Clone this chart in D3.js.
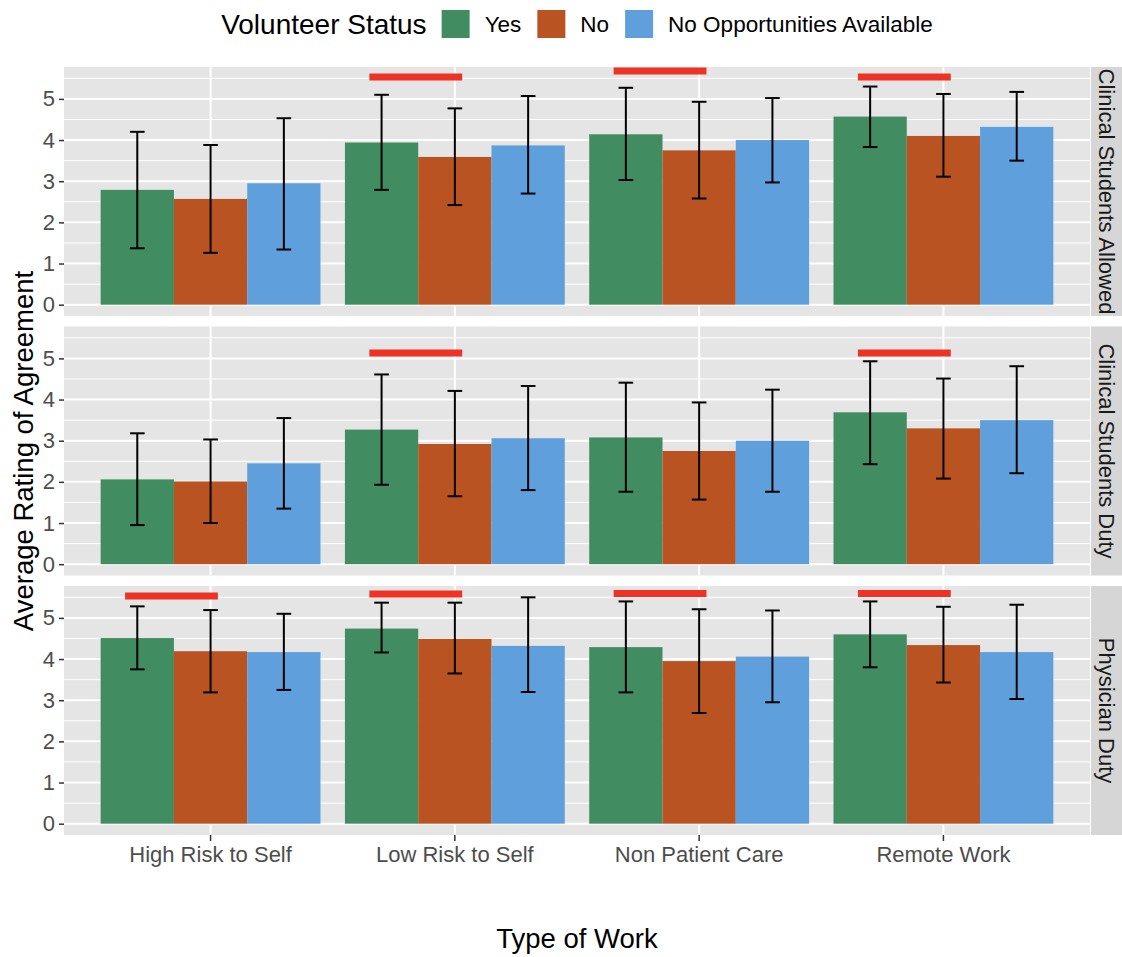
<!DOCTYPE html>
<html>
<head>
<meta charset="utf-8">
<script src="https://cdn.jsdelivr.net/npm/d3@7"></script>
<style>
  html, body { margin: 0; padding: 0; background: #ffffff; }
  svg { display: block; font-family: "Liberation Sans", Arial, Helvetica, sans-serif; }
</style>
</head>
<body>
<svg id="chart" width="1122" height="957"></svg>
<script>
// ---------------- DATA ----------------
const categories = ["High Risk to Self", "Low Risk to Self", "Non Patient Care", "Remote Work"];
const facets = ["Clinical Students Allowed", "Clinical Students Duty", "Physician Duty"];
const statuses = ["Yes", "No", "No Opportunities Available"];
const statusColors = ["#428C62", "#B95422", "#5FA0DC"];
const yTicks = [0, 1, 2, 3, 4, 5];
const yMinorTicks = [0.5, 1.5, 2.5, 3.5, 4.5, 5.5];

// rows = status (Yes, No, No Opportunities), columns = category
const meanAllowed  = [[2.79, 3.94, 4.14, 4.57], [2.57, 3.59, 3.75, 4.10], [2.95, 3.87, 4.00, 4.32]];
const lowerAllowed = [[1.37, 2.79, 3.03, 3.83], [1.26, 2.42, 2.58, 3.11], [1.34, 2.70, 2.97, 3.50]];
const upperAllowed = [[4.20, 5.10, 5.27, 5.30], [3.88, 4.77, 4.93, 5.12], [4.53, 5.07, 5.02, 5.17]];

const meanDuty  = [[2.06, 3.27, 3.08, 3.69], [2.01, 2.92, 2.75, 3.30], [2.45, 3.06, 3.00, 3.50]];
const lowerDuty = [[0.95, 1.93, 1.76, 2.43], [1.00, 1.65, 1.57, 2.08], [1.35, 1.80, 1.76, 2.21]];
const upperDuty = [[3.18, 4.61, 4.41, 4.93], [3.03, 4.21, 3.93, 4.51], [3.55, 4.33, 4.24, 4.81]];

const meanPhys  = [[4.51, 4.74, 4.29, 4.60], [4.19, 4.49, 3.95, 4.34], [4.17, 4.32, 4.06, 4.17]];
const lowerPhys = [[3.75, 4.16, 3.19, 3.80], [3.19, 3.65, 2.69, 3.43], [3.25, 3.20, 2.95, 3.03]];
const upperPhys = [[5.28, 5.37, 5.40, 5.40], [5.19, 5.37, 5.21, 5.27], [5.10, 5.50, 5.18, 5.32]];

// significance markers (red bars)
const sigFacet    = [0, 0, 0, 1, 1, 2, 2, 2, 2];
const sigCategory = ["Low Risk to Self", "Non Patient Care", "Remote Work",
                     "Low Risk to Self", "Remote Work",
                     "High Risk to Self", "Low Risk to Self", "Non Patient Care", "Remote Work"];
const sigY        = [5.53, 5.68, 5.53, 5.13, 5.13, 5.53, 5.58, 5.59, 5.59];

const means  = [meanAllowed, meanDuty, meanPhys];
const lowers = [lowerAllowed, lowerDuty, lowerPhys];
const uppers = [upperAllowed, upperDuty, upperPhys];

// ---------------- LAYOUT ----------------
const svg = d3.select("#chart");
const panelLeft = 64, panelRight = 1090;
const panelTops = [67, 326.5, 586];
const panelH = 249;
const stripW = 32;

const x = d3.scaleBand().domain(categories).range([panelLeft, panelRight])
  .paddingInner(0.1).paddingOuter(0.15);
const xs = d3.scaleBand().domain(statuses).range([0, x.bandwidth()]);
const color = d3.scaleOrdinal().domain(statuses).range(statusColors);
const step = x.step();

facets.forEach((facet, fi) => {
  const top = panelTops[fi];
  const y = d3.scaleLinear().domain([-0.275, 5.775]).range([top + panelH, top]);
  const g = svg.append("g");

  const clipId = "clip" + fi;
  svg.append("clipPath").attr("id", clipId).append("rect")
    .attr("x", panelLeft).attr("y", top).attr("width", panelRight - panelLeft).attr("height", panelH);

  // panel background
  g.append("rect").attr("x", panelLeft).attr("y", top)
    .attr("width", panelRight - panelLeft).attr("height", panelH).attr("fill", "#E5E5E5");

  // minor grid
  g.selectAll(".minor").data(yMinorTicks).join("line")
    .attr("x1", panelLeft).attr("x2", panelRight)
    .attr("y1", d => y(d)).attr("y2", d => y(d))
    .attr("stroke", "#ffffff").attr("stroke-width", 1);
  // major grid
  g.selectAll(".major").data(yTicks).join("line")
    .attr("x1", panelLeft).attr("x2", panelRight)
    .attr("y1", d => y(d)).attr("y2", d => y(d))
    .attr("stroke", "#ffffff").attr("stroke-width", 2);
  g.selectAll(".vmajor").data(categories).join("line")
    .attr("x1", d => x(d) + x.bandwidth() / 2).attr("x2", d => x(d) + x.bandwidth() / 2)
    .attr("y1", top).attr("y2", top + panelH)
    .attr("stroke", "#ffffff").attr("stroke-width", 2);

  // bars
  const barData = [];
  statuses.forEach((s, si) => {
    categories.forEach((c, ci) => {
      barData.push({ s, c, v: means[fi][si][ci], lo: lowers[fi][si][ci], hi: uppers[fi][si][ci] });
    });
  });
  g.selectAll(".bar").data(barData).join("rect")
    .attr("x", d => x(d.c) + xs(d.s))
    .attr("width", xs.bandwidth())
    .attr("y", d => y(d.v))
    .attr("height", d => y(0) - y(d.v))
    .attr("fill", d => color(d.s));

  // error bars
  const capW = xs.bandwidth() * 0.2;
  const eb = g.selectAll(".eb").data(barData).join("g");
  eb.append("line")
    .attr("x1", d => x(d.c) + xs(d.s) + xs.bandwidth() / 2)
    .attr("x2", d => x(d.c) + xs(d.s) + xs.bandwidth() / 2)
    .attr("y1", d => y(d.lo)).attr("y2", d => y(d.hi))
    .attr("stroke", "#000").attr("stroke-width", 2);
  ["lo", "hi"].forEach(k => {
    eb.append("line")
      .attr("x1", d => x(d.c) + xs(d.s) + xs.bandwidth() / 2 - capW / 2)
      .attr("x2", d => x(d.c) + xs(d.s) + xs.bandwidth() / 2 + capW / 2)
      .attr("y1", d => y(d[k])).attr("y2", d => y(d[k]))
      .attr("stroke", "#000").attr("stroke-width", 2);
  });

  // significance red bars
  const sig = sigFacet.map((f, i) => ({ f, c: sigCategory[i], y: sigY[i] })).filter(d => d.f === fi);
  g.append("g").attr("clip-path", `url(#${clipId})`)
    .selectAll("line").data(sig).join("line")
    .attr("x1", d => x(d.c) + x.bandwidth() / 2 - 0.35 * step)
    .attr("x2", d => x(d.c) + x.bandwidth() / 2 + 0.03 * step)
    .attr("y1", d => y(d.y)).attr("y2", d => y(d.y))
    .attr("stroke", "#EE3224").attr("stroke-width", 7);

  // y axis
  const ax = svg.append("g").attr("transform", `translate(${panelLeft},0)`)
    .call(d3.axisLeft(y).tickValues(yTicks).tickSize(5).tickPadding(4).tickFormat(d3.format("d")));
  ax.select(".domain").remove();
  ax.selectAll(".tick line").attr("stroke", "#333333").attr("stroke-width", 1.5);
  ax.selectAll(".tick text").attr("fill", "#4D4D4D").style("font-size", "22px");

  // strip
  svg.append("rect").attr("x", panelRight + 1).attr("y", top)
    .attr("width", stripW).attr("height", panelH).attr("fill", "#D6D6D6");
  svg.append("text")
    .attr("transform", `translate(${panelRight + 1 + stripW / 2 - 1},${top + panelH / 2}) rotate(90)`)
    .attr("text-anchor", "middle").attr("dominant-baseline", "central")
    .attr("fill", "#1A1A1A").style("font-size", "22px").text(facet);
});

// x axis (bottom)
const bottom = panelTops[2] + panelH;
const xa = svg.append("g").attr("transform", `translate(0,${bottom})`)
  .call(d3.axisBottom(x).tickSize(6).tickPadding(5));
xa.select(".domain").remove();
xa.selectAll(".tick line").attr("stroke", "#333333").attr("stroke-width", 1.5);
xa.selectAll(".tick text").attr("fill", "#4D4D4D").style("font-size", "22px");

// axis titles
svg.append("text").attr("x", (panelLeft + panelRight) / 2).attr("y", 948)
  .attr("text-anchor", "middle").attr("fill", "#000").style("font-size", "27.5px").text("Type of Work");
svg.append("text")
  .attr("transform", `translate(33,${(panelTops[0] + bottom) / 2}) rotate(-90)`)
  .attr("text-anchor", "middle").attr("fill", "#000").style("font-size", "27.5px")
  .text("Average Rating of Agreement");

// legend
const leg = svg.append("g");
const legTitle = leg.append("text").attr("x", 0).attr("y", 34)
  .attr("fill", "#000").style("font-size", "28px").text("Volunteer Status");
let cx = legTitle.node().getComputedTextLength() + 15;
statuses.forEach((s, i) => {
  leg.append("rect").attr("x", cx).attr("y", 10).attr("width", 28).attr("height", 28)
    .attr("fill", color(s));
  cx += 28 + 15;
  const t = leg.append("text").attr("x", cx).attr("y", 32)
    .attr("fill", "#000").style("font-size", "22.5px").text(s);
  cx += t.node().getComputedTextLength() + 16;
});
const legW = cx - 16;
leg.attr("transform", `translate(${(panelLeft + panelRight) / 2 - legW / 2},0)`);
</script>
</body>
</html>
